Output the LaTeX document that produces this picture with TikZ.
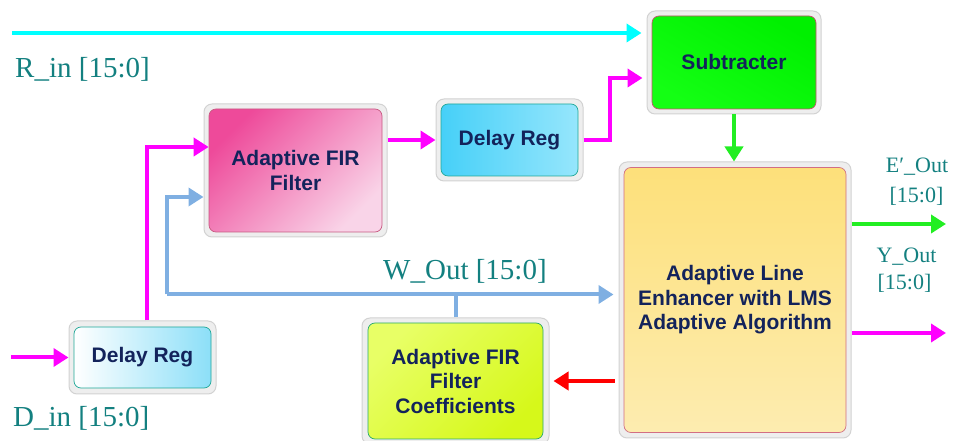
\documentclass[tikz,border=0pt]{standalone}
\usepackage{fontspec}
\setmainfont{Liberation Serif}
\setsansfont{Liberation Sans}
\usetikzlibrary{arrows.meta,calc}
\definecolor{navy}{HTML}{13235B}
\definecolor{tealtxt}{HTML}{138080}
\definecolor{framefill}{HTML}{EEEEEE}
\definecolor{framedraw}{HTML}{D2D2D2}
\definecolor{wmag}{HTML}{FF00FF}
\definecolor{wcyan}{HTML}{00FFFF}
\definecolor{wgreen}{HTML}{22EE22}
\definecolor{wblue}{HTML}{7FAFE2}
\definecolor{wred}{HTML}{FF0000}
\begin{document}
\begin{tikzpicture}[x=1pt,y=1pt,
  frame/.style={draw=framedraw, fill=framefill, line width=1pt, rounded corners=8pt, inner sep=0pt},
  blk/.style={rounded corners=7pt, line width=0.7pt, inner sep=0pt, align=center,
    font=\sffamily\bfseries\fontsize{21}{24.5}\selectfont, text=navy},
  lbl/.style={font=\fontsize{29}{32}\selectfont, text=tealtxt, inner sep=0pt, anchor=base west},
  slbl/.style={font=\fontsize{22}{26}\selectfont, text=tealtxt, inner sep=0pt, anchor=base},
  wire/.style={line width=4pt},
  arr/.style={wire, -{Triangle[length=15pt,width=18pt]}}
]
\useasboundingbox (0,0) rectangle (955,441);

% ---- frames ----
\node[frame, minimum width=174, minimum height=103] (subF) at (734,378.5) {};
\node[frame, minimum width=232, minimum height=276] (aleF) at (735,141) {};
\node[frame, minimum width=183, minimum height=133] (filtF) at (295.5,270.5) {};
\node[frame, minimum width=147, minimum height=82] (dtopF) at (509.5,301) {};
\node[frame, minimum width=147, minimum height=73] (dbotF) at (142.5,83.5) {};
\node[frame, minimum width=187, minimum height=126] (coefF) at (455.5,60) {};

% ---- blocks ----
\node[blk, draw={rgb,255:red,200;green,80;blue,110}, top color={rgb,255:red,0;green,240;blue,0},
  bottom color={rgb,255:red,20;green,255;blue,20}, shading angle=-30,
  minimum width=164, minimum height=93] (sub) at (734,378.5) {Subtracter};
\node[blk, draw={rgb,255:red,210;green,110;blue,130}, top color={rgb,255:red,253;green,224;blue,122},
  bottom color={rgb,255:red,253;green,236;blue,176},
  minimum width=222, minimum height=265] (ale) at (735,141)
  {Adaptive Line\\Enhancer with LMS\\Adaptive Algorithm};
\node[blk, draw={rgb,255:red,200;green,90;blue,130}, top color={rgb,255:red,238;green,74;blue,154},
  bottom color={rgb,255:red,249;green,212;blue,232}, shading angle=45,
  minimum width=173, minimum height=123] (filt) at (295.5,270.5) {Adaptive FIR\\Filter};
\node[blk, draw={rgb,255:red,32;green,168;blue,152}, left color={rgb,255:red,70;green,208;blue,248},
  right color={rgb,255:red,150;green,230;blue,252},
  minimum width=137, minimum height=72] (dtop) at (509.5,301) {Delay Reg};
\node[blk, draw={rgb,255:red,32;green,168;blue,152}, left color=white,
  right color={rgb,255:red,140;green,223;blue,248},
  minimum width=137, minimum height=61] (dbot) at (142.5,83.5) {Delay Reg};
\node[blk, draw={rgb,255:red,40;green,170;blue,110}, top color={rgb,255:red,232;green,255;blue,102},
  bottom color={rgb,255:red,214;green,248;blue,26}, shading angle=45,
  minimum width=175, minimum height=116] (coef) at (455.5,60) {Adaptive FIR\\Filter\\Coefficients};

% ---- free ends ----
\coordinate (rin) at (12,408);
\coordinate (din) at (11,83.5);
\coordinate (wl) at (167,146.5);
\coordinate (eout) at (946,217);
\coordinate (yout) at (946,108);

% ---- connectors ----
\draw[arr, wcyan, shorten >=5pt] (rin) -- (rin -| subF.west);
\draw[arr, wmag] (din) -- (dbotF.west);
\draw[arr, wmag] ([xshift=4.5pt]dbotF.north) |- ([yshift=23.5pt]filt.west);
\draw[arr, wmag] (filtF.east |- dtopF.west) -- (dtopF.west);
\draw[arr, wmag, shorten >=4pt] (dtopF.east) -- ++(26,0) |- ([yshift=-15.5pt]subF.west);
\draw[arr, wgreen] (subF.south) -- (subF.south |- aleF.north);
\draw[wire, wblue] (coefF.north) -- (coefF.north |- wl);
\draw[arr, wblue, shorten >=5pt] (wl) -- (wl -| aleF.west);
\draw[arr, wblue] (wl) |- ([yshift=-26.5pt]filtF.west);
\draw[arr, wred, shorten >=4pt, shorten <=4pt] (aleF.west |- coefF.east) -- (coefF.east);
\draw[arr, wgreen] (aleF.east |- eout) -- (eout);
\draw[arr, wmag] (aleF.east |- yout) -- (yout);

% ---- labels ----
\node[lbl] (lrin) at (15,363) {R\_in [15:0]};
\node[lbl] (ldin) at (13,14) {D\_in [15:0]};
\node[lbl] (lwout) at (383,161) {W\_Out [15:0]};
\node[slbl] (le1) at (917,268) {E′\_Out};
\node[slbl] (le2) at (916.5,238) {[15:0]};
\node[slbl] (ly1) at (906.5,178) {Y\_Out};
\node[slbl] (ly2) at (904.5,151) {[15:0]};
\end{tikzpicture}
\end{document}
